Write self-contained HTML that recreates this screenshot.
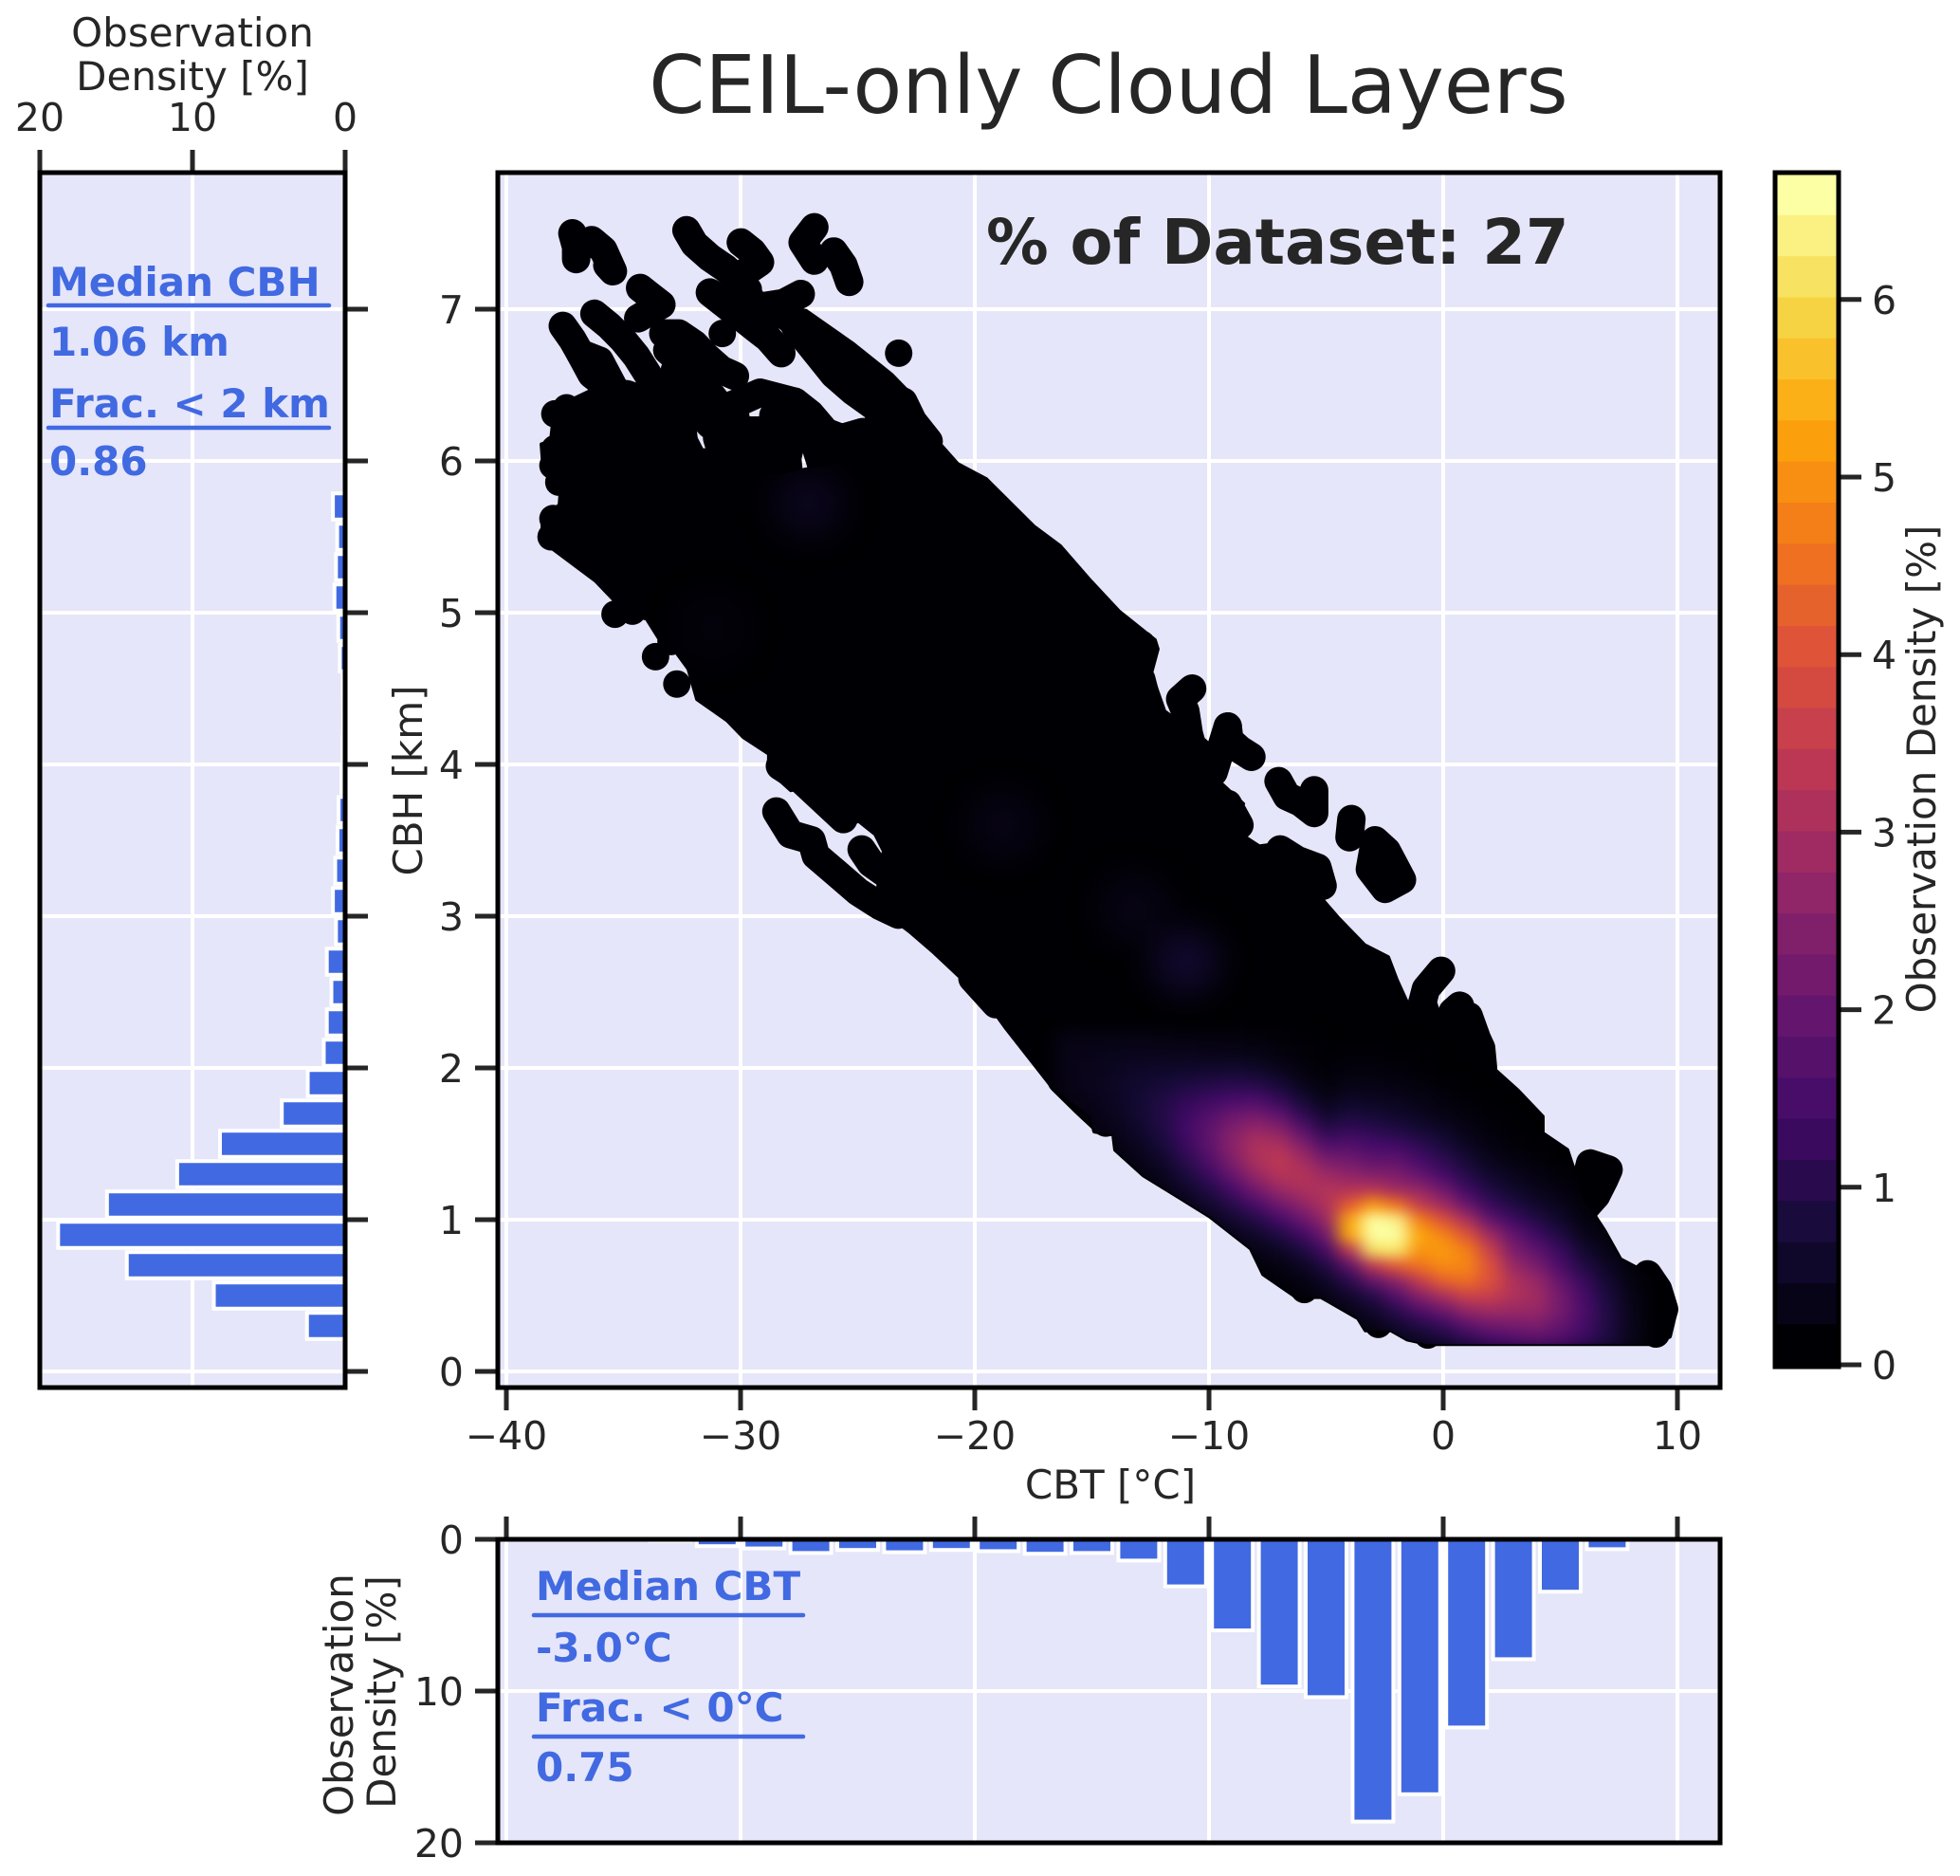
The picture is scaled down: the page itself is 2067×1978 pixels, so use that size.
<!DOCTYPE html>
<html lang="en">
<head>
<meta charset="utf-8">
<title>CEIL-only Cloud Layers</title>
<style>
  html, body { margin: 0; padding: 0; background: #ffffff; }
  svg { display: block; }
  text { font-family: "DejaVu Sans", "Liberation Sans", sans-serif; fill: #262626; }
  .lab { font-size: 41px; }
  .title { font-size: 42px; }
  .note { font-size: 42px; font-weight: bold; fill: #4169E1; }
</style>
</head>
<body>
<svg id="fig" width="2067" height="1978" viewBox="0 0 2067 1978">
  <defs>
    <clipPath id="main-clip"><rect x="525" y="182" width="1289" height="1281"/></clipPath>
    <clipPath id="left-clip"><rect x="42" y="182" width="322" height="1281"/></clipPath>
    <clipPath id="bottom-clip"><rect x="525" y="1623" width="1289" height="320"/></clipPath>
    <clipPath id="hull-clip"><polygon id="hull-clip-shape" points=""/></clipPath>
    <filter id="density-blur" filterUnits="userSpaceOnUse" x="525" y="182" width="1289" height="1281" color-interpolation-filters="sRGB">
      <feGaussianBlur stdDeviation="9 7"/>
    </filter>
    <filter id="faint-blur" filterUnits="userSpaceOnUse" x="525" y="182" width="1289" height="1281" color-interpolation-filters="sRGB">
      <feGaussianBlur stdDeviation="16"/>
    </filter>
  </defs>

  <rect x="42" y="182" width="322" height="1281" fill="#E6E6FA"/>
  <rect x="525" y="182" width="1289" height="1281" fill="#E6E6FA"/>
  <rect x="525" y="1623" width="1289" height="320" fill="#E6E6FA"/>

  <g id="grid-layer"></g>
  <g id="left-bars" clip-path="url(#left-clip)"></g>
  <g id="bottom-bars" clip-path="url(#bottom-clip)"></g>
  <g clip-path="url(#main-clip)">
    <g id="scatter-layer"></g>
    <g clip-path="url(#hull-clip)">
      <g id="faint-layer" filter="url(#faint-blur)"></g>
      <g id="density-layer" filter="url(#density-blur)"></g>
    </g>
  </g>
  <g id="colorbar-layer"></g>
  <g id="tick-layer"></g>

  <rect x="42" y="182" width="322" height="1281" fill="none" stroke="#000" stroke-width="5"/>
  <rect x="525" y="182" width="1289" height="1281" fill="none" stroke="#000" stroke-width="5"/>
  <rect x="525" y="1623" width="1289" height="320" fill="none" stroke="#000" stroke-width="5"/>
  <rect x="1872" y="182" width="67" height="1259" fill="none" stroke="#000" stroke-width="5"/>

  <text x="1169" y="119" font-size="84.6" text-anchor="middle">CEIL-only Cloud Layers</text>
  <text x="1040" y="278" font-size="65.6" font-weight="bold">% of Dataset: 27</text>

  <text class="title" x="203" y="49" text-anchor="middle">Observation</text>
  <text class="title" x="203" y="95" text-anchor="middle">Density [%]</text>
  <text class="title" x="445" y="823" text-anchor="middle" transform="rotate(-90 445 823)">CBH [km]</text>
  <text class="title" x="1171" y="1580" text-anchor="middle">CBT [°C]</text>
  <text class="title" x="372" y="1787" text-anchor="middle" transform="rotate(-90 372 1787)">Observation</text>
  <text class="title" x="417" y="1784" text-anchor="middle" transform="rotate(-90 417 1784)">Density [%]</text>
  <text class="title" x="2041" y="811" text-anchor="middle" transform="rotate(-90 2041 811)">Observation Density [%]</text>

  <text class="note" x="52" y="312">Median CBH</text>
  <line x1="51" y1="322" x2="347" y2="322" stroke="#4169E1" stroke-width="4.5" stroke-linecap="round"/>
  <text class="note" x="52" y="375">1.06 km</text>
  <text class="note" x="52" y="440">Frac. &lt; 2 km</text>
  <line x1="51" y1="451" x2="347" y2="451" stroke="#4169E1" stroke-width="4.5" stroke-linecap="round"/>
  <text class="note" x="52" y="501">0.86</text>

  <text class="note" x="565" y="1687">Median CBT</text>
  <line x1="563" y1="1703" x2="847" y2="1703" stroke="#4169E1" stroke-width="4.5" stroke-linecap="round"/>
  <text class="note" x="565" y="1752">-3.0°C</text>
  <text class="note" x="565" y="1815">Frac. &lt; 0°C</text>
  <line x1="563" y1="1831" x2="847" y2="1831" stroke="#4169E1" stroke-width="4.5" stroke-linecap="round"/>
  <text class="note" x="565" y="1878">0.75</text>
</svg>

<script>
// ---- Histogram data ----
const cbhBinCenters = [0.3,0.5,0.7,0.9,1.1,1.3,1.5,1.7,1.9,2.1,2.3,2.5,2.7,2.9,3.1,3.3,3.5,3.7,3.9,4.1,4.3,4.5,4.7,4.9,5.1,5.3,5.5,5.7];
const cbhDensity = [2.5,8.6,14.3,18.8,15.6,11,8.2,4.15,2.45,1.4,1.2,0.9,1.2,0.6,0.8,0.65,0.5,0.43,0.24,0.17,0.13,0.15,0.35,0.45,0.7,0.6,0.52,0.8];
const cbtBinCenters = [-37,-35,-33,-31,-29,-27,-25,-23,-21,-19,-17,-15,-13,-11,-9,-7,-5,-3,-1,1,3,5,7];
const cbtDensity = [0.03,0.05,0.1,0.45,0.6,0.9,0.7,0.85,0.7,0.78,0.95,0.9,1.4,3.1,6,9.7,10.4,18.6,16.8,12.4,7.9,3.45,0.65];

// ---- Tick labels ----
const mainXTicks = [-40,-30,-20,-10,0,10];
const mainYTicks = [0,1,2,3,4,5,6,7];
const leftXTicks = [20,10,0];
const bottomYTicks = [0,10,20];
const colorbarTicks = [0,1,2,3,4,5,6];

// ---- Scatter: outer envelope of the dense core (CBT, CBH) ----
const hullCbt = [-38.10,-37.94,-36.44,-33.64,-32.63,-32.47,-31.13,-29.84,-28.99,-28.34,-25.71,-24.70,-23.72,-24.70,-25.99,-26.92,-28.34,-28.99,-27.21,-25.18,-23.56,-22.55,-21.94,-20.73,-19.51,-17.49,-16.36,-15.06,-13.85,-13.04,-12.31,-12.19,-12.47,-11.90,-10.20,-9.19,-9.72,-8.54,-9.15,-7.85,-6.96,-5.22,-4.66,-5.22,-4.49,-3.36,-2.35,-1.98,-1.42,0.04,0.93,1.98,3.20,4.25,4.25,5.30,5.99,6.88,7.57,8.30,9.51,9.96,9.68,9.07,-0.65,-1.54,-2.23,-3.32,-3.64,-5.22,-6.28,-7.69,-8.22,-9.96,-11.21,-12.79,-14.01,-14.09,-14.90,-15.06,-16.68,-18.66,-19.55,-20.57,-21.74,-22.79,-24.25,-23.89,-24.25,-24.98,-25.71,-26.44,-27.17,-27.85,-28.79,-28.79,-29.88,-30.57,-31.86,-32.23,-32.75,-33.40,-34.01,-34.74,-35.38,-36.19,-38.18,-38.46,-38.46,-37.73,-37.69,-38.42,-38.50];
const hullCbh = [6.13,6.35,6.46,6.48,6.35,6.11,6.01,5.86,5.91,5.91,5.99,5.95,6.01,6.33,6.54,6.68,6.91,7.02,6.99,6.77,6.57,6.41,6.19,5.98,5.88,5.57,5.44,5.21,5.01,4.91,4.82,4.76,4.60,4.35,4.16,4.02,3.91,3.74,3.59,3.46,3.48,3.37,3.21,3.12,2.99,2.81,2.73,2.58,2.39,2.21,2.12,2.02,1.85,1.68,1.57,1.46,1.14,0.93,0.74,0.68,0.58,0.41,0.23,0.18,0.18,0.21,0.27,0.27,0.35,0.49,0.49,0.64,0.81,1.02,1.14,1.29,1.46,1.56,1.58,1.68,1.87,2.26,2.45,2.59,2.76,2.90,3.07,3.43,3.54,3.63,3.56,3.71,3.85,3.83,3.96,4.07,4.18,4.29,4.43,4.63,4.74,4.81,4.96,4.99,5.08,5.21,5.44,5.53,5.62,5.71,5.79,5.95,6.11];

// ---- Scatter: individual observations visible outside the core ----
const scatterCbt = [-37.18,-37.02,-37.02,-36.36,-35.86,-35.45,-35.69,-34.29,-33.96,-33.38,-34.37,-36.24,-35.61,-35.03,-34.45,-33.96,-37.59,-37.18,-36.85,-36.02,-36.36,-35.61,-32.31,-31.97,-31.31,-30.65,-29.99,-29.99,-29.5,-29.17,-29.83,-31.31,-30.65,-29.99,-29.33,-28.83,-28.26,-26.85,-27.35,-26.85,-26.02,-25.61,-25.36,-27.43,-28.17,-29.0,-29.67,-28.01,-27.02,-26.19,-25.36,-24.54,-23.71,-23.05,-22.64,-21.97,-27.68,-26.85,-26.02,-25.2,-24.21,-23.25,-30.78,-33.3,-32.64,-31.97,-31.48,-30.82,-30.24,-33.13,-32.31,-31.64,-32.97,-31.97,-31.31,-30.49,-29.33,-29.17,-29.99,-30.32,-29.17,-27.68,-27.02,-26.36,-25.69,-24.78,-24.45,-27.84,-28.01,-34.87,-35.94,-33.96,-33.3,-32.8,-37.93,-37.43,-37.93,-38.01,-37.76,-38.01,-38.09,-31.07,-31.97,-30.32,-35.36,-34.62,-33.63,-32.72,-32.97,-28.47,-27.87,-26.97,-26.79,-25.88,-24.98,-24.07,-23.26,-24.83,-24.44,-23.35,-22.09,-28.32,-27.42,-25.61,-20.1,-19.1,-15.31,-16.3,-14.41,-10.72,-11.23,-11.01,-10.86,-9.2,-9.13,-8.19,-8.7,-7.03,-6.67,-5.51,-5.51,-6.09,-3.92,-4.0,-2.91,-2.41,-3.13,-1.76,-2.48,-6.96,-6.24,-5.37,-5.15,-0.09,-0.74,-0.89,0.7,0.41,-9.2,-12.89,-13.18,-12.89,-14.33,-14.04,-13.32,0.74,1.62,1.44,1.09,6.27,6.89,6.53,7.06,8.73,9.17,9.43,9.08,8.47,7.76,-2.77,-5.93,-0.66];
const scatterCbh = [7.50,7.41,7.33,7.455,7.39,7.25,7.29,7.14,7.10,7.03,6.94,6.97,6.89,6.80,6.69,6.57,6.89,6.80,6.71,6.66,6.57,6.48,7.52,7.43,7.34,7.27,7.18,7.44,7.38,7.31,7.24,7.11,7.03,6.95,6.87,6.81,6.71,7.54,7.44,7.32,7.38,7.29,7.18,7.10,7.04,7.02,7.13,6.95,6.82,6.71,6.62,6.51,6.44,6.39,6.26,6.13,6.89,6.73,6.57,6.46,6.35,6.71,6.84,6.84,6.84,6.77,6.69,6.60,6.56,6.73,6.62,6.51,6.39,6.35,6.24,6.15,6.13,5.97,6.04,6.37,6.45,6.39,6.31,6.19,6.15,6.19,6.08,6.13,6.02,6.44,6.37,6.39,6.24,6.24,6.31,6.35,6.08,5.97,5.86,5.62,5.50,5.99,5.99,5.81,4.99,5.01,4.71,4.53,4.81,3.69,3.54,3.5,3.4,3.28,3.16,3.07,3.01,3.44,3.35,3.23,3.07,3.99,3.90,3.64,2.59,2.42,1.77,1.92,1.64,4.50,4.43,4.35,4.20,4.25,4.16,4.05,4.10,3.89,3.79,3.83,3.68,3.75,3.64,3.52,3.50,3.43,3.31,3.24,3.18,3.44,3.37,3.32,3.20,2.64,2.52,2.43,2.41,2.37,3.74,4.79,4.60,4.56,4.50,4.45,4.31,2.41,2.13,2.19,2.34,1.37,1.27,1.16,1.33,0.64,0.54,0.41,0.25,0.29,0.50,0.31,0.54,0.24];

// ---- Scatter: overlapping runs of observations, one array per run ----
const runCbt = [
  [-37.18,-37.02,-37.02],
  [-36.36,-35.86,-35.45,-35.69],
  [-34.29,-33.96,-33.38,-34.37],
  [-36.24,-35.61,-35.03,-34.45,-33.96,-33.3],
  [-37.59,-37.18,-36.85,-36.36,-35.61,-35.2],
  [-36.85,-36.02,-35.3],
  [-32.31,-31.97,-31.31,-30.65,-29.99,-29.5],
  [-29.99,-29.5,-29.17,-29.83],
  [-31.31,-30.65,-29.99,-29.33,-28.83,-28.26],
  [-26.85,-27.35,-26.85],
  [-26.02,-25.61,-25.36],
  [-29.0,-28.17,-27.43],
  [-29.0,-28.01,-27.02,-26.19,-25.36,-24.54,-23.71,-23.05,-22.64,-21.97],
  [-27.68,-26.85,-26.02,-25.2,-24.21,-23.5],
  [-33.3,-32.64,-31.97,-31.48,-30.82,-30.24],
  [-33.13,-32.31,-31.64,-30.97],
  [-32.97,-31.97,-31.31,-30.49,-29.99,-29.33,-29.17,-29.1],
  [-30.32,-29.17,-27.68,-27.02,-26.36,-25.69,-24.78,-24.45,-24.3],
  [-27.68,-27.84,-28.01,-27.9],
  [-32.8,-31.97,-31.07,-30.32,-29.6],
  [-30.32,-30.0,-29.4],
  [-34.87,-33.96,-33.3,-32.8],
  [-30.0,-29.2],
  [-28.6,-28.6],
  [-27.0,-26.5],
  [-26.0,-25.5],
  [-25.0,-24.7],
  [-31.0,-30.5],
  [-32.8,-32.4],
  [-12.89,-13.18,-12.89,-12.3],
  [-14.33,-14.04,-13.32,-12.7],
  [-10.72,-11.23,-11.01,-10.86,-10.5],
  [-9.2,-9.13,-8.7,-8.19],
  [-9.2,-9.8],
  [-7.03,-6.67,-6.09,-5.51,-5.51],
  [-3.92,-4.0],
  [-2.91,-2.41,-1.76,-2.48,-3.13,-2.91],
  [-6.96,-6.24,-5.37,-5.15],
  [-9.2,-8.7],
  [-0.09,-0.74,-0.89,-1.2],
  [-0.89,-0.3,0.3],
  [0.7,0.41,1.09,1.44,1.62,1.7],
  [0.41,-0.2],
  [1.09,0.4],
  [6.27,7.06,6.89,6.53,6.0,6.27],
  [6.53,5.9],
  [8.73,9.17,9.43,9.08,8.47,7.76,8.73],
  [-28.47,-27.87,-26.97,-26.79,-25.88,-24.98,-24.07,-23.26],
  [-24.83,-24.44,-23.35,-22.09],
  [-28.32,-27.42,-25.61],
  [-20.1,-19.1],
  [-16.3,-15.31,-14.41]
];
const runCbh = [
  [7.50,7.41,7.33],
  [7.455,7.39,7.25,7.29],
  [7.14,7.10,7.03,6.94],
  [6.97,6.89,6.80,6.69,6.57,6.40],
  [6.89,6.80,6.71,6.57,6.48,6.30],
  [6.71,6.66,6.45],
  [7.52,7.43,7.34,7.27,7.18,7.05],
  [7.44,7.38,7.31,7.24],
  [7.11,7.03,6.95,6.87,6.81,6.71],
  [7.54,7.44,7.32],
  [7.38,7.29,7.18],
  [7.02,7.04,7.10],
  [7.02,6.95,6.82,6.71,6.62,6.51,6.44,6.39,6.26,6.13],
  [6.89,6.73,6.57,6.46,6.35,6.10],
  [6.84,6.84,6.77,6.69,6.60,6.56],
  [6.73,6.62,6.51,6.38],
  [6.39,6.35,6.24,6.15,6.04,6.13,5.97,5.85],
  [6.37,6.45,6.39,6.31,6.19,6.15,6.19,6.08,5.90],
  [6.39,6.13,6.02,5.85],
  [6.24,5.99,5.99,5.81,5.75],
  [6.37,6.10,5.90],
  [6.44,6.39,6.24,6.24],
  [6.20,6.20],
  [6.30,6.00],
  [6.20,5.95],
  [6.10,5.95],
  [6.10,5.90],
  [6.15,5.90],
  [6.60,6.10],
  [4.79,4.60,4.56,4.20],
  [4.50,4.45,4.31,4.10],
  [4.50,4.43,4.35,4.20,4.00],
  [4.25,4.16,4.10,4.05],
  [4.25,3.95],
  [3.89,3.79,3.75,3.68,3.83],
  [3.64,3.52],
  [3.50,3.43,3.24,3.18,3.31,3.50],
  [3.44,3.37,3.32,3.20],
  [3.74,3.60],
  [2.64,2.52,2.43,2.25],
  [2.43,2.15,2.10],
  [2.41,2.37,2.34,2.19,2.13,2.00],
  [2.37,2.10],
  [2.34,2.10],
  [1.37,1.33,1.27,1.16,1.20,1.37],
  [1.16,1.05],
  [0.64,0.54,0.41,0.25,0.29,0.50,0.64],
  [3.69,3.54,3.50,3.40,3.28,3.16,3.07,3.01],
  [3.44,3.35,3.23,3.07],
  [3.99,3.90,3.64],
  [2.59,2.42],
  [1.92,1.77,1.64]
];

// ---- Density heatmap (one line per CBT column) ----
const densityCbt = [-16,-15,-14,-13,-12,-11,-10,-9,-8,-7,-6,-5,-4,-3,-2,-1,0,1,2,3,4,5,6,7,8];
const densityCbh = [0.2,0.3,0.4,0.5,0.6,0.7,0.8,0.9,1.0,1.1,1.2,1.3,1.4,1.5,1.6,1.7,1.8,1.9,2.0,2.1,2.2];
const densityValues = [
  [0,0,0,0,0,0,0,0,0,0,0,0,0.02,0.05,0.08,0.13,0.18,0.23,0.25,0.24,0.2],
  [0,0,0,0,0,0,0,0,0,0,0,0.02,0.05,0.09,0.14,0.2,0.26,0.3,0.29,0.25,0.19],
  [0,0,0,0,0,0,0,0,0,0,0.02,0.06,0.1,0.18,0.26,0.34,0.39,0.4,0.35,0.28,0.19],
  [0,0,0,0,0,0,0,0,0,0.03,0.07,0.14,0.25,0.37,0.49,0.58,0.59,0.54,0.43,0.3,0.18],
  [0,0,0,0,0,0,0,0,0.02,0.09,0.18,0.32,0.49,0.67,0.81,0.85,0.79,0.64,0.46,0.29,0.16],
  [0,0,0,0,0,0,0,0.02,0.12,0.25,0.45,0.72,0.99,1.21,1.32,1.24,1.05,0.75,0.5,0.29,0.14],
  [0,0,0,0,0,0,0.05,0.13,0.26,0.51,0.84,1.23,1.6,1.81,1.81,1.6,1.23,0.84,0.51,0.26,0.13],
  [0,0,0,0,0,0,0.12,0.25,0.52,0.91,1.41,1.96,2.38,2.53,2.38,1.96,1.41,0.91,0.52,0.25,0.12],
  [0,0,0,0,0,0.09,0.22,0.46,0.87,1.45,2.12,2.74,3.1,3.1,2.74,2.12,1.45,0.87,0.46,0.22,0.09],
  [0,0,0,0,0.07,0.17,0.4,0.78,1.36,2.06,2.75,3.25,3.38,3.08,2.47,1.76,1.1,0.61,0.29,0.12,0.05],
  [0,0,0,0.07,0.16,0.38,0.74,1.29,1.96,2.61,3.09,3.21,2.93,2.35,1.68,1.05,0.58,0.28,0.12,0.05,0.01],
  [0,0,0.08,0.2,0.44,0.84,1.41,2.09,2.74,3.15,3.19,2.83,2.22,1.54,0.93,0.49,0.23,0.1,0.03,0.01,0],
  [0,0.1,0.24,0.5,0.99,1.81,3.3,5.4,5.4,4.2,3.2,2.6,2.1,1.6,1.1,0.7,0.4,0.2,0.1,0.03,0],
  [0.09,0.22,0.48,0.91,1.9,3.4,6.2,6.71,6.71,5.2,3.3,2.4,1.8,1.4,0.95,0.6,0.35,0.2,0.1,0.03,0],
  [0.23,0.5,0.96,1.63,2.53,4.2,6.3,6.71,6.5,4.6,2.9,2.3,1.8,1.3,0.8,0.5,0.3,0.15,0.05,0.01,0],
  [0.39,0.82,1.52,2.45,3.48,4.6,5.1,5.4,4.8,3.5,2.7,1.9,1.4,1,0.6,0.35,0.2,0.1,0.03,0.01,0],
  [0.59,1.15,2,3.04,4.3,5,5.2,4.9,4,2.9,2.1,1.4,1,0.7,0.4,0.2,0.1,0.03,0,0,0],
  [0.95,1.69,2.63,3.64,4.5,4.9,4.8,4.1,3.1,2,1.3,0.9,0.6,0.35,0.2,0.1,0.03,0,0,0,0],
  [1.27,2.03,2.85,3.55,4,4,3.6,2.9,1.9,1.2,0.8,0.5,0.3,0.15,0.07,0.02,0,0,0,0,0],
  [1.47,2.14,2.77,3.14,3.14,2.77,2.3,1.9,1.3,0.8,0.5,0.3,0.15,0.05,0.01,0,0,0,0,0,0],
  [1.62,2.25,2.73,2.9,2.73,2.25,1.8,1.3,0.85,0.5,0.3,0.15,0.05,0.01,0,0,0,0,0,0,0],
  [1.47,1.9,2.16,2.16,1.9,1.47,1.2,0.8,0.5,0.3,0.15,0.05,0,0,0,0,0,0,0,0,0],
  [1.16,1.41,1.5,1.41,1.16,0.84,0.54,0.3,0.15,0.07,0.03,0.01,0,0,0,0,0,0,0,0,0],
  [0.74,0.82,0.83,0.74,0.57,0.39,0.22,0.12,0.05,0.02,0,0,0,0,0,0,0,0,0,0,0],
  [0.28,0.3,0.28,0.24,0.16,0.1,0.06,0.02,0,0,0,0,0,0,0,0,0,0,0,0,0]
];

// ---- Faint density maxima in the upper part of the cloud ----
const faintCbt = [-27.1,-11,-18.8,-13.2,-31.2];
const faintCbh = [5.72,2.7,3.6,3.05,4.9];
const faintValue = [0.3,0.5,0.2,0.2,0.08];

// ---- Colour scale ----
const colorbarMax = 6.71;
const colorbarBandCount = 29;
const infernoStops = ['#000004','#160b39','#420a68','#6a176e','#932667','#bc3754','#dd513a','#f37819','#fca50a','#f6d746','#fcffa4'];

// ---- Axis functions ----
function xMain(v) { return 1522 + 24.7 * v; }
function yMain(v) { return 1446 - 160 * v; }
function xLeft(v) { return 364 - 16.1 * v; }
function yBottom(v) { return 1623 + 16 * v; }
function yColorbar(v) { return 1439 - 187.2 * v; }

function inferno(t) {
  const c = Math.max(0, Math.min(1, t)) * (infernoStops.length - 1);
  const i = Math.min(infernoStops.length - 2, Math.floor(c));
  const f = c - i;
  const a = infernoStops[i], b = infernoStops[i + 1];
  const out = [1, 3, 5].map(function (p) {
    const p0 = parseInt(a.substr(p, 2), 16), p1 = parseInt(b.substr(p, 2), 16);
    return Math.round(p0 + (p1 - p0) * f);
  });
  return 'rgb(' + out.join(',') + ')';
}

const fig = document.getElementById('fig');
function mk(tag, attrs, parent) {
  const el = document.createElementNS(fig.namespaceURI, tag);
  Object.keys(attrs).forEach(function (k) { el.setAttribute(k, attrs[k]); });
  parent.appendChild(el);
  return el;
}

const gridLayer = document.getElementById('grid-layer');
const tickLayer = document.getElementById('tick-layer');
const gridStyle = { stroke: '#ffffff', 'stroke-width': 4 };
const tickStyle = { stroke: '#262626', 'stroke-width': 5 };

// Main panel x axis + bottom panel x ticks
mainXTicks.forEach(function (v) {
  const x = xMain(v);
  const g1 = mk('line', Object.assign({ x1: x, x2: x, y1: 182, y2: 1463 }, gridStyle), gridLayer);
  
  
  const g2 = mk('line', Object.assign({ x1: x, x2: x, y1: 1623, y2: 1943 }, gridStyle), gridLayer);
  
  
  const t1 = mk('line', Object.assign({ x1: x, x2: x, y1: 1463, y2: 1487 }, tickStyle), tickLayer);
  
  
  const t2 = mk('line', Object.assign({ x1: x, x2: x, y1: 1599, y2: 1623 }, tickStyle), tickLayer);
  
  
  const lab = mk('text', { x: x, y: 1528, 'text-anchor': 'middle', class: 'lab' }, tickLayer);
  
  
  lab.textContent = v < 0 ? '\u2212' + Math.abs(v) : String(v);
});

// Main + left panel y axis
mainYTicks.forEach(function (v) {
  const y = yMain(v);
  const g1 = mk('line', Object.assign({ x1: 525, x2: 1814, y1: y, y2: y }, gridStyle), gridLayer);
  
  
  const g2 = mk('line', Object.assign({ x1: 42, x2: 364, y1: y, y2: y }, gridStyle), gridLayer);
  
  
  const t1 = mk('line', Object.assign({ x1: 501, x2: 525, y1: y, y2: y }, tickStyle), tickLayer);
  
  
  const t2 = mk('line', Object.assign({ x1: 364, x2: 388, y1: y, y2: y }, tickStyle), tickLayer);
  
  
  const lab = mk('text', { x: 489, y: y + 15, 'text-anchor': 'end', class: 'lab' }, tickLayer);
  
  
  lab.textContent = String(v);
});

// Left panel x axis
leftXTicks.forEach(function (v) {
  const x = xLeft(v);
  const g = mk('line', Object.assign({ x1: x, x2: x, y1: 182, y2: 1463 }, gridStyle), gridLayer);
  
  
  const t = mk('line', Object.assign({ x1: x, x2: x, y1: 158, y2: 182 }, tickStyle), tickLayer);
  
  
  const lab = mk('text', { x: x, y: 138, 'text-anchor': 'middle', class: 'lab' }, tickLayer);
  
  
  lab.textContent = String(v);
});

// Bottom panel y axis
bottomYTicks.forEach(function (v) {
  const y = yBottom(v);
  const g = mk('line', Object.assign({ x1: 525, x2: 1814, y1: y, y2: y }, gridStyle), gridLayer);
  
  
  const t = mk('line', Object.assign({ x1: 501, x2: 525, y1: y, y2: y }, tickStyle), tickLayer);
  
  
  const lab = mk('text', { x: 489, y: y + 15, 'text-anchor': 'end', class: 'lab' }, tickLayer);
  
  
  lab.textContent = String(v);
});

// Left histogram
const leftBars = document.getElementById('left-bars');
cbhBinCenters.forEach(function (c, i) {
  const half = 0.086;
  const y0 = yMain(c + half), y1 = yMain(c - half);
  const x0 = xLeft(cbhDensity[i]), x1 = xLeft(0);
  const bar = mk('rect', { x: x0, y: y0, width: x1 - x0 + 4, height: y1 - y0, fill: '#4169E1', stroke: '#ffffff', 'stroke-width': 4 }, leftBars);
  
  
});

// Bottom histogram
const bottomBars = document.getElementById('bottom-bars');
cbtBinCenters.forEach(function (c, i) {
  const half = 0.87;
  const x0 = xMain(c - half), x1 = xMain(c + half);
  const y0 = yBottom(0), y1 = yBottom(cbtDensity[i]);
  const bar = mk('rect', { x: x0, y: y0 - 4, width: x1 - x0, height: y1 - y0 + 4, fill: '#4169E1', stroke: '#ffffff', 'stroke-width': 4 }, bottomBars);
  
  
});

// Scatter core, runs and points
const scatterLayer = document.getElementById('scatter-layer');
const hullPoints = hullCbt.map(function (t, i) { return xMain(t) + ',' + yMain(hullCbh[i]); }).join(' ');
const core = mk('polygon', { points: hullPoints, fill: '#000004', stroke: '#000004', 'stroke-width': 4, 'stroke-linejoin': 'round' }, scatterLayer);


document.getElementById('hull-clip-shape').setAttribute('points', hullPoints);
runCbt.forEach(function (run, i) {
  const pts = run.map(function (t, j) { return xMain(t) + ',' + yMain(runCbh[i][j]); }).join(' ');
  const line = mk('polyline', { points: pts, fill: 'none', stroke: '#000004', 'stroke-width': 30, 'stroke-linecap': 'round', 'stroke-linejoin': 'round' }, scatterLayer);
  
  
});
scatterCbt.forEach(function (t, i) {
  const dot = mk('circle', { cx: xMain(t), cy: yMain(scatterCbh[i]), r: 14.5, fill: '#000004' }, scatterLayer);
  
  
});

// Faint density patches
const faintLayer = document.getElementById('faint-layer');
faintCbt.forEach(function (t, i) {
  const patch = mk('ellipse', { cx: xMain(t), cy: yMain(faintCbh[i]), rx: 36, ry: 34, fill: inferno(faintValue[i] / colorbarMax) }, faintLayer);
  
  
});

// Density heatmap
const densityLayer = document.getElementById('density-layer');
densityCbt.forEach(function (t, i) {
  densityCbh.forEach(function (h, j) {
    const v = densityValues[i][j];
    if (v <= 0) return;
    const x0 = xMain(t - 0.5), x1 = xMain(t + 0.5);
    const y0 = yMain(h + 0.05), y1 = yMain(h - 0.05);
    const cell = mk('rect', { x: x0, y: y0, width: x1 - x0 + 0.5, height: y1 - y0 + 0.5, fill: inferno(v / colorbarMax) }, densityLayer);
    
    
  });
});

// Colorbar
const colorbarLayer = document.getElementById('colorbar-layer');
for (let b = 0; b < colorbarBandCount; b++) {
  const lo = b * colorbarMax / colorbarBandCount;
  const hi = (b + 1) * colorbarMax / colorbarBandCount;
  const yTop = yColorbar(hi);
  const yBot = b === 0 ? 1441 : yColorbar(lo);
  const band = mk('rect', { x: 1872, y: yTop, width: 67, height: yBot - yTop + 0.6, fill: inferno(b / (colorbarBandCount - 1)) }, colorbarLayer);
  
  
}
colorbarTicks.forEach(function (v) {
  const y = yColorbar(v);
  const t = mk('line', Object.assign({ x1: 1939, x2: 1963, y1: y, y2: y }, tickStyle), tickLayer);
  
  
  const lab = mk('text', { x: 1974, y: y + 15, class: 'lab' }, tickLayer);
  
  
  lab.textContent = String(v);
});
</script>
</body>
</html>
